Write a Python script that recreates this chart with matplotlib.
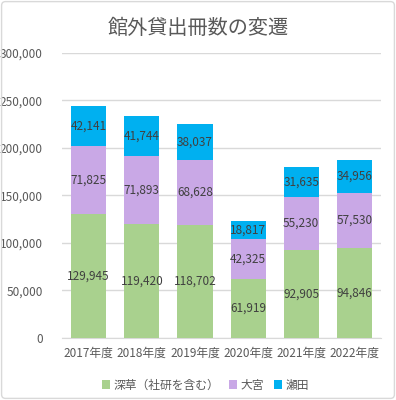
import matplotlib.pyplot as plt
from matplotlib.patches import FancyBboxPatch
from matplotlib.ticker import FuncFormatter
import numpy as np

plt.rcParams['font.family'] = ['Noto Sans CJK JP', 'DejaVu Sans']

years = ['2017年度', '2018年度', '2019年度', '2020年度', '2021年度', '2022年度']
fukakusa = [129945, 119420, 118702, 61919, 92905, 94846]
omiya = [71825, 71893, 68628, 42325, 55230, 57530]
seta = [42141, 41744, 38037, 18817, 31635, 34956]

names = ['深草（社研を含む）', '大宮', '瀬田']
colors = ['#A9D18E', '#C9A8E6', '#00B0F0']
text_col = '#404040'

fig = plt.figure(figsize=(3.96, 4.0), dpi=100)
ax = fig.add_axes([0.157, 0.155, 0.805, 0.713])

# border round the chart
fig.patches.append(FancyBboxPatch((0.004, 0.004), 0.992, 0.992, boxstyle='round,pad=0,rounding_size=0.01',
                                  transform=fig.transFigure, fill=False, edgecolor='#D9D9D9', linewidth=1))

x = np.arange(len(years))
bottom = np.zeros(len(years))
for vals, name, c in zip([fukakusa, omiya, seta], names, colors):
    bars = ax.bar(x, vals, width=0.66, bottom=bottom, color=c, label=name, zorder=3)
    for i, v in enumerate(vals):
        ax.text(x[i], bottom[i] + v / 2, f'{v:,}', ha='center', va='center', fontsize=8.5, color=text_col, zorder=4)
    bottom += np.array(vals)

ax.set_ylim(0, 300000)
ax.set_yticks(range(0, 300001, 50000))
ax.yaxis.set_major_formatter(FuncFormatter(lambda v, p: f'{int(v):,}'))
ax.set_xlim(-0.5, len(years) - 0.5)
ax.set_xticks(x)
ax.set_xticklabels(years)
ax.tick_params(axis='both', length=0, labelsize=8.5, labelcolor='#595959')
ax.tick_params(axis='y', pad=14)
ax.tick_params(axis='x', pad=6)
ax.grid(axis='y', color='#D9D9D9', linewidth=1, zorder=0)
for s in ['top', 'right', 'left']:
    ax.spines[s].set_visible(False)
ax.spines['bottom'].set_color('#D9D9D9')

fig.suptitle('館外貸出冊数の変遷', x=0.5, y=0.955, fontsize=14.5, color='#595959')

leg = ax.legend(loc='upper center', bbox_to_anchor=(0.45, -0.105), ncol=3, frameon=False, fontsize=8.5,
                handlelength=0.7, handleheight=0.7, handletextpad=0.3, columnspacing=0.8)
for t in leg.get_texts():
    t.set_color('#595959')

plt.savefig('out.png')
